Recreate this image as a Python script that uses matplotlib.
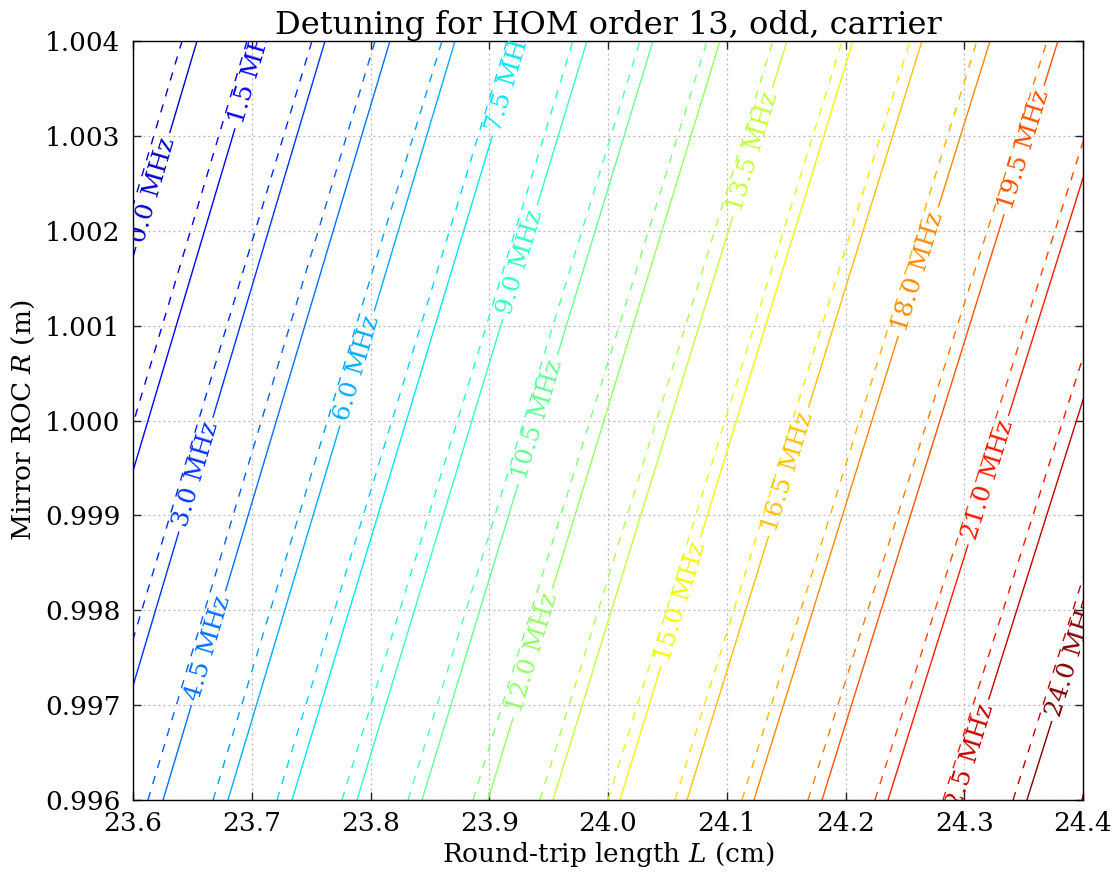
import numpy as np
import matplotlib
matplotlib.use("Agg")
import matplotlib.pyplot as plt
from matplotlib import colors
from matplotlib.font_manager import FontProperties

# Contour levels (MHz) and where each line crosses the bottom (R = 0.996 m)
# and top (R = 1.004 m) of the plot (L in cm)
R_edges = [0.996, 1.004]

levels_solid = [0.0, 1.5, 3.0, 4.5, 6.0, 7.5, 9.0, 10.5, 12.0,
                13.5, 15.0, 16.5, 18.0, 19.5, 21.0, 22.5, 24.0]
L_bot_solid = [23.4644, 23.5175, 23.5714, 23.6253, 23.6800, 23.7339, 23.7886, 23.8434, 23.8989,
               23.9537, 24.0101, 24.0665, 24.1229, 24.1802, 24.2358, 24.2939, 24.3528]
L_top_solid = [23.6539, 23.7078, 23.7617, 23.8164, 23.8712, 23.9267, 23.9823, 24.0379, 24.0943,
               24.1507, 24.2063, 24.2644, 24.3217, 24.3789, 24.4362, 24.4952, 24.5541]
# R where each solid line carries its label
label_R = [1.00243, 1.00368, 0.99943, 0.99760, 1.00055, 1.00360, 1.00167, 1.00001, 0.99755,
           1.00283, 0.99809, 0.99946, 1.00157, 1.00285, 0.99937, 0.99638, 0.99751]

levels_dash = [0.0, 1.5, 3.0, 4.5, 6.0, 7.5, 9.0, 10.5, 12.0,
               13.5, 15.0, 16.5, 18.0, 19.5, 21.0, 22.5, 24.0, 25.5]
L_bot_dash = [23.4509, 23.5057, 23.5596, 23.6126, 23.6674, 23.7213, 23.7760, 23.8316, 23.8863,
              23.9427, 24.0000, 24.0564, 24.1128, 24.1684, 24.2248, 24.2821, 24.3411, 24.3990]
L_top_dash = [23.6413, 23.6960, 23.7507, 23.8038, 23.8602, 23.9149, 23.9705, 24.0269, 24.0834,
              24.1389, 24.1971, 24.2543, 24.3107, 24.3697, 24.4269, 24.4842, 24.5423, 24.6021]

# colour scale of each set (MHz)
crange_solid = [-1.5, 24.0]
crange_dash = [-1.5, 25.5]

x_ticks = [23.6, 23.7, 23.8, 23.9, 24.0, 24.1, 24.2, 24.3, 24.4]
y_ticks = [0.996, 0.997, 0.998, 0.999, 1.000, 1.001, 1.002, 1.003, 1.004]

plt.rcParams['font.family'] = 'DejaVu Serif'
plt.rcParams['mathtext.fontset'] = 'dejavuserif'

fig = plt.figure(figsize=(11.19, 8.8), dpi=100)
ax = fig.add_axes([133 / 1119, 80 / 880, 950 / 1119, 759 / 880])
ax.set_xlim(23.6, 24.4)
ax.set_ylim(R_edges[0], R_edges[1])

jet = plt.get_cmap('jet')
norm_s = colors.Normalize(*crange_solid)
norm_d = colors.Normalize(*crange_dash)

# dashed set
for lev, lb, lt in zip(levels_dash, L_bot_dash, L_top_dash):
    ax.plot([lb, lt], R_edges, color=jet(norm_d(lev)), lw=1.0, dashes=(6, 6))

# solid set with inline labels
renderer = fig.canvas.get_renderer()
fp = FontProperties(family='DejaVu Serif', size=18)
to_px = ax.transData.transform
to_data = ax.transData.inverted().transform
for lev, lb, lt, rl in zip(levels_solid, L_bot_solid, L_top_solid, label_R):
    c = jet(norm_s(lev))
    p0 = to_px((lb, R_edges[0]))
    p1 = to_px((lt, R_edges[1]))
    u = (p1 - p0) / np.hypot(*(p1 - p0))
    lc = lb + (lt - lb) * (rl - R_edges[0]) / (R_edges[1] - R_edges[0])
    pc = to_px((lc, rl))
    txt = f'{lev:.1f} MHz'
    w = renderer.get_text_width_height_descent(txt, fp, ismath=False)[0]
    half = w / 2 + 6
    a = to_data(pc - u * half)
    b = to_data(pc + u * half)
    ax.plot([lb, a[0]], [R_edges[0], a[1]], color=c, lw=1.0)
    ax.plot([b[0], lt], [b[1], R_edges[1]], color=c, lw=1.0)
    ang = np.degrees(np.arctan2(u[1], u[0]))
    ax.text(lc, rl, txt, color=c, fontproperties=fp, rotation=ang,
            rotation_mode='anchor', ha='center', va='center', clip_on=True)

ax.set_xticks(x_ticks)
ax.set_xticklabels([f'{v:.1f}' for v in x_ticks])
ax.set_yticks(y_ticks)
ax.set_yticklabels([f'{v:.3f}' for v in y_ticks])
ax.grid(True, color='0.7', linestyle=(0, (1.5, 2.5)), lw=0.9)
ax.tick_params(direction='in', top=True, right=True, length=6, width=1,
               labelsize=19, color='0.15')
ax.tick_params(axis='x', pad=8)
ax.tick_params(axis='y', pad=9)
for s in ax.spines.values():
    s.set_linewidth(1.0)

ax.set_title('Detuning for HOM order 13, odd, carrier', fontsize=23, pad=5)
ax.set_xlabel('Round-trip length $L$ (cm)', fontsize=19, labelpad=3)
ax.set_ylabel('Mirror ROC $R$ (m)', fontsize=19, labelpad=6)

fig.savefig('out.png', dpi=100)
